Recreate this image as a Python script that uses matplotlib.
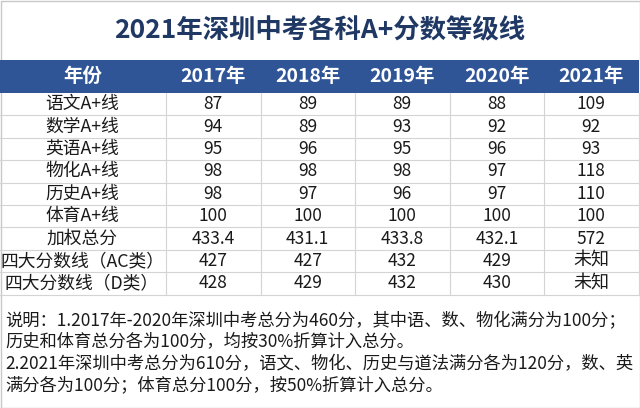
import matplotlib
matplotlib.use('Agg')
import matplotlib.pyplot as plt
from matplotlib.patches import Rectangle

plt.rcParams['font.family'] = ['Noto Sans CJK SC', 'DejaVu Sans']

title = '2021年深圳中考各科A+分数等级线'
years = ['2017年', '2018年', '2019年', '2020年', '2021年']
row_names = ['语文A+线', '数学A+线', '英语A+线', '物化A+线', '历史A+线',
             '体育A+线', '加权总分', '四大分数线（AC类）', '四大分数线（D类）']
chinese = ['87', '89', '89', '88', '109']
math = ['94', '89', '93', '92', '92']
english = ['95', '96', '95', '96', '93']
phys_chem = ['98', '98', '98', '97', '118']
history = ['98', '97', '96', '97', '110']
pe = ['100', '100', '100', '100', '100']
weighted_total = ['433.4', '431.1', '433.8', '432.1', '572']
line_ac = ['427', '427', '432', '429', '未知']
line_d = ['428', '429', '432', '430', '未知']
table_rows = [chinese, math, english, phys_chem, history, pe,
              weighted_total, line_ac, line_d]
notes = ['说明：1.2017年-2020年深圳中考总分为460分，其中语、数、物化满分为100分；',
         '历史和体育总分各为100分，均按30%折算计入总分。',
         '2.2021年深圳中考总分为610分，语文、物化、历史与道法满分各为120分，数、英',
         '满分各为100分；体育总分100分，按50%折算计入总分。']

# layout in pixels
W, H = 640, 408
col_edges = [0, 166, 260.5, 355, 449.5, 544, 638.5]
head_top, head_bot = 60, 93
row_h = 22.4
grid_col = '#d4d4d4'

fig = plt.figure(figsize=(W / 100, H / 100), dpi=100)
ax = fig.add_axes([0, 0, 1, 1])
ax.set_xlim(0, W)
ax.set_ylim(H, 0)
ax.axis('off')

# outer border
ax.add_patch(Rectangle((0.5, 0.5), W - 1, H - 1, fill=False, edgecolor='#c8c8c8', linewidth=1))

ax.text(W / 2, 31, title, ha='center', va='center', fontsize=19,
        fontweight='bold', color='#1f3864')

# header
ax.add_patch(Rectangle((0, head_top), col_edges[-1], head_bot - head_top,
                       facecolor='#2f5597', edgecolor='none'))
headers = ['年份'] + years
for i, h in enumerate(headers):
    xc = (col_edges[i] + col_edges[i + 1]) / 2
    ax.text(xc, (head_top + head_bot) / 2, h, ha='center', va='center',
            fontsize=14, fontweight='bold', color='white')

# body
table_bot = head_bot + row_h * len(row_names)
for r, name in enumerate(row_names):
    yc = head_bot + row_h * (r + 0.5)
    ax.text((col_edges[0] + col_edges[1]) / 2 - 1, yc, name, ha='center', va='center',
            fontsize=12.8, color='#1a1a1a')
    for c, val in enumerate(table_rows[r]):
        xc = (col_edges[c + 1] + col_edges[c + 2]) / 2
        fs = 13 if val == '未知' else 12.5
        ax.text(xc, yc, val, ha='center', va='center', fontsize=fs, color='#1a1a1a')
    ax.plot([0, col_edges[-1]], [head_bot + row_h * (r + 1)] * 2,
            color=grid_col, linewidth=0.8)

for x in col_edges[1:]:
    ax.plot([x, x], [head_bot, table_bot], color=grid_col, linewidth=0.8)

# notes
for i, line in enumerate(notes):
    ax.text(5, 321 + i * 21.5, line, ha='left', va='center', fontsize=12.45,
            color='#1a1a1a')

fig.savefig('out.png', dpi=100)
